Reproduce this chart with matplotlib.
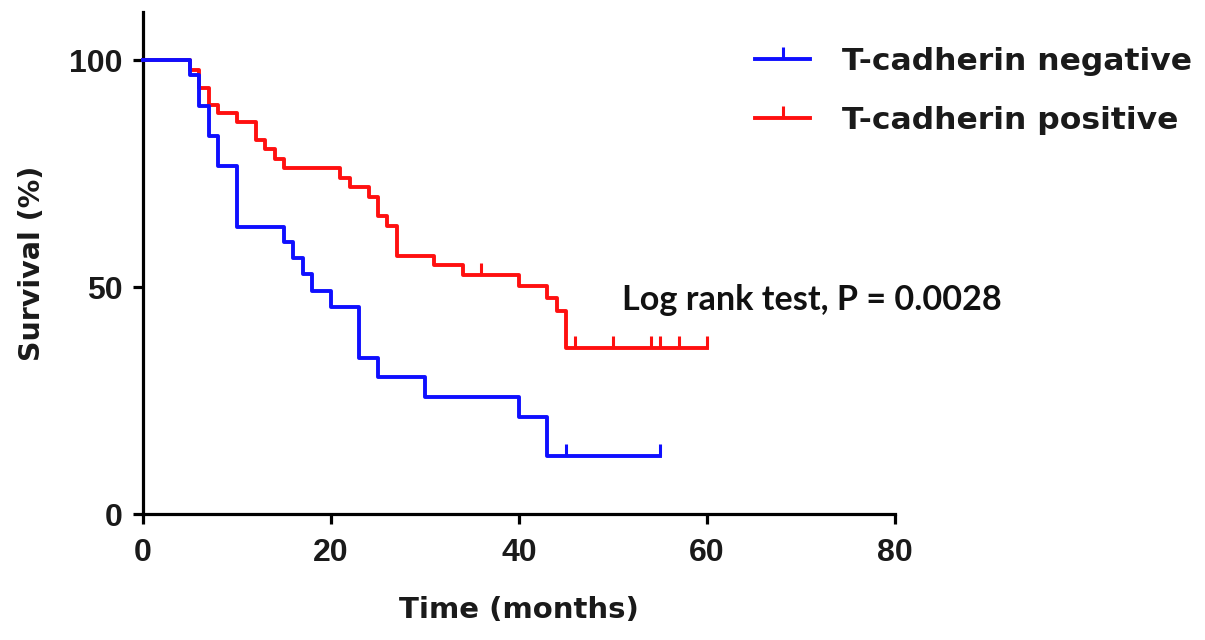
import numpy as np
import matplotlib
matplotlib.use("Agg")
import matplotlib.pyplot as plt
from matplotlib.lines import Line2D

# --- data ---
neg_time = [0, 5, 6, 7, 8, 10, 15, 16, 17, 18, 20, 23, 25, 30, 40, 43, 55]
neg_surv = [100, 96.7, 90.0, 83.3, 76.7, 63.3, 60.0, 56.4, 52.8, 49.2, 45.7,
            34.3, 30.1, 25.8, 21.4, 12.8, 12.8]
neg_cens = [45, 55]

pos_time = [0, 5, 6, 7, 8, 10, 12, 13, 14, 15, 21, 22, 24, 25, 26, 27, 31,
            34, 40, 43, 44, 45, 60]
pos_surv = [100, 97.9, 93.9, 90.2, 88.3, 86.3, 82.4, 80.4, 78.3, 76.2, 74.1,
            72.0, 69.8, 65.6, 63.4, 56.9, 54.8, 52.7, 50.3, 47.5, 44.8, 36.5, 36.5]
pos_cens = [36, 46, 50, 54, 55, 57, 60]

labels = ["T-cadherin negative", "T-cadherin positive"]
xticks = [0, 20, 40, 60, 80]
yticks = [0, 50, 100]
p_text = "Log rank test, P = 0.0028"


def level_at(times, surv, t):
    # value of the step curve at time t
    i = np.searchsorted(times, t, side="right") - 1
    return np.array(surv)[i]


W, H = 1205, 640
fig = plt.figure(figsize=(W / 100, H / 100), dpi=100)
ax = fig.add_axes([143 / W, 126 / H, 752 / W, 502 / H])

colors = {"neg": "#0f0fff", "pos": "#ff1010"}
lw = 2.8

# red first, blue on top
ax.step(pos_time, pos_surv, where="post", color=colors["pos"], lw=lw,
        clip_on=False, zorder=3)
ax.plot(pos_cens, [level_at(pos_time, pos_surv, t) for t in pos_cens],
        ls="none", marker=2, ms=9, mew=2.2, color=colors["pos"],
        clip_on=False, zorder=3)
ax.step(neg_time, neg_surv, where="post", color=colors["neg"], lw=lw,
        clip_on=False, zorder=4)
ax.plot(neg_cens, [level_at(neg_time, neg_surv, t) for t in neg_cens],
        ls="none", marker=2, ms=9, mew=2.2, color=colors["neg"],
        clip_on=False, zorder=4)

ax.set_xlim(0, 80)
ax.set_ylim(0, 110.6)
ax.set_xticks(xticks)
ax.set_yticks(yticks)
for s in ["top", "right"]:
    ax.spines[s].set_visible(False)
for s in ["left", "bottom"]:
    ax.spines[s].set_linewidth(2.3)
ax.tick_params(direction="out", length=7.5, width=2.3, pad=7,
               labelsize=23)
ax.tick_params(axis="x", pad=10)
for lab in ax.get_xticklabels() + ax.get_yticklabels():
    lab.set_fontfamily("Liberation Sans")
    lab.set_fontweight("bold")
    lab.set_color("#1a1a1a")

ax.set_xlabel("Time (months)", fontsize=21, fontweight="bold",
              family="DejaVu Sans", color="#1a1a1a", labelpad=20)
ax.set_ylabel("Survival (%)", fontsize=20.5, fontweight="bold",
              family="DejaVu Sans", color="#1a1a1a", labelpad=17)

ax.text(51, 45, p_text, fontsize=24.6, fontweight="bold", family="Lato",
        color="#111111", va="baseline")

handles = [Line2D([], [], color=colors["neg"], lw=lw, marker=2, ms=9, mew=2.2),
           Line2D([], [], color=colors["pos"], lw=lw, marker=2, ms=9, mew=2.2)]
leg = fig.legend(handles, labels, loc="upper left",
                 bbox_to_anchor=(727 / W, 1 - 19 / H), frameon=False,
                 numpoints=1, handlelength=1.75, handletextpad=1.0,
                 labelspacing=0.95,
                 prop={"family": "DejaVu Sans", "weight": "bold", "size": 22.6})
for t in leg.get_texts():
    t.set_color("#1a1a1a")

fig.savefig("out.png", dpi=100)
